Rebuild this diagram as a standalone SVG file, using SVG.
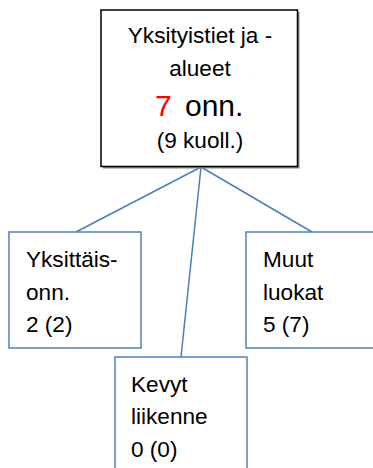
<svg xmlns="http://www.w3.org/2000/svg" width="373" height="468" viewBox="0 0 373 468">
  <style>
    .lbl { font-family: "Liberation Sans", Arial, sans-serif; font-size: 22.6px; fill: #000; }
    .big { font-size: 30px; }
    .red { fill: #ff0000; }
    .sub { fill: #fff; stroke: #4f81bd; stroke-width: 1.5; }
    .link { stroke: #4a7ebb; stroke-width: 1.5; fill: none; }
  </style>
  <rect width="373" height="468" fill="#fff"/>

  <g id="connectors">
    <line class="link" x1="201" y1="167" x2="76" y2="232"/>
    <line class="link" x1="201" y1="167" x2="181" y2="357"/>
    <line class="link" x1="201" y1="167" x2="312" y2="232"/>
  </g>

  <g id="root">
    <rect x="103" y="12" width="196.5" height="156.5" fill="#888"/>
    <rect x="101" y="10" width="196.5" height="156.5" fill="#fff" stroke="#000" stroke-width="1.5"/>
    <text class="lbl" x="200" y="43" text-anchor="middle">Yksityistiet ja -</text>
    <text class="lbl" x="200" y="76" text-anchor="middle">alueet</text>
    <text class="lbl big" y="116"><tspan class="red" x="155">7</tspan><tspan x="185">onn.</tspan></text>
    <text class="lbl" x="200" y="148" text-anchor="middle">(9 kuoll.)</text>
  </g>

  <g id="yksittais">
    <rect class="sub" x="9" y="232" width="132" height="116"/>
    <text class="lbl" x="26" y="267">Yksittäis-</text>
    <text class="lbl" x="26" y="300">onn.</text>
    <text class="lbl" x="26" y="332">2 (2)</text>
  </g>

  <g id="muut">
    <rect class="sub" x="246" y="232" width="140" height="116"/>
    <text class="lbl" x="263" y="267">Muut</text>
    <text class="lbl" x="263" y="300">luokat</text>
    <text class="lbl" x="263" y="332">5 (7)</text>
  </g>

  <g id="kevyt">
    <rect class="sub" x="115" y="357" width="132" height="120"/>
    <text class="lbl" x="131" y="392">Kevyt</text>
    <text class="lbl" x="131" y="424">liikenne</text>
    <text class="lbl" x="131" y="457">0 (0)</text>
  </g>
</svg>
